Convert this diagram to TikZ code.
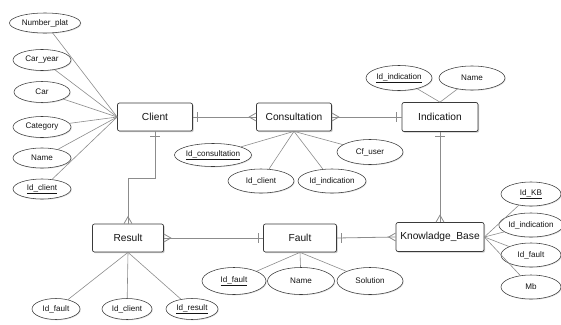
\documentclass[tikz,border=0pt]{standalone}
\usepackage{fontspec}
\setmainfont{Liberation Sans}
\usetikzlibrary{shapes.geometric,shadows,calc}
\definecolor{lnc}{HTML}{8C8C8C}
\definecolor{bdc}{HTML}{3A3A3A}
\definecolor{txc}{HTML}{141414}
\tikzset{
  entity/.style={draw=bdc, line width=0.7pt, rounded corners=2pt, fill=white,
    minimum height=28pt, inner sep=0pt, text=txc,
    font=\fontsize{10.2}{12}\selectfont,
    drop shadow={shadow xshift=1.2pt, shadow yshift=-1.2pt, fill=black!35, opacity=0.6}},
  attr/.style={ellipse, draw=bdc, line width=0.55pt, fill=white, inner sep=0pt,
    minimum height=21pt, text=txc, font=\fontsize{8.1}{9}\selectfont,
    drop shadow={shadow xshift=0.8pt, shadow yshift=-0.8pt, fill=black!25, opacity=0.5}},
  aline/.style={draw=lnc, line width=0.6pt},
  conn/.style={draw=lnc, line width=0.8pt}
}
\begin{document}
\begin{tikzpicture}[x=1pt,y=-1pt]
\useasboundingbox (0,0) rectangle (561,324);
% entities
\node[entity, minimum width=75pt] (client) at (155,117) {Client};
\node[entity, minimum width=75pt] (consult) at (294,117) {Consultation};
\node[entity, minimum width=76pt, minimum height=29pt] (indic) at (440,117) {Indication};
\node[entity, minimum width=88pt, minimum height=29pt] (kb) at (440,237) {Knowladge\_Base};
\node[entity, minimum width=71pt] (result) at (128,238) {Result};
\node[entity, minimum width=73pt] (fault) at (300,238) {Fault};

% Client attributes
\node[attr, minimum width=71pt, minimum height=20pt] (cnum) at (45,23) {Number\_plat};
\node[attr, minimum width=58pt] (cyear) at (42,60) {Car\_year};
\node[attr, minimum width=56pt] (ccar) at (42,92) {Car};
\node[attr, minimum width=58pt] (ccat) at (42,127) {Category};
\node[attr, minimum width=58pt, minimum height=20pt] (cname) at (42,158) {Name};
\node[attr, minimum width=58pt, minimum height=20pt] (cid) at (42,189) {\underline{Id\_client}};
\foreach \a in {cnum,cyear,ccar,ccat,cname,cid} \draw[aline] (\a) -- (client.west);

% Consultation attributes
\node[attr, minimum width=76pt, minimum height=23pt] (kid) at (213,155) {\underline{Id\_consultation}};
\node[attr, minimum width=66pt, minimum height=24pt] (kcl) at (261,181) {Id\_client};
\node[attr, minimum width=68pt, minimum height=24pt] (kin) at (332,181) {Id\_indication};
\node[attr, minimum width=66pt, minimum height=25pt] (kcf) at (370,152) {Cf\_user};
\foreach \a in {kid,kcl,kin,kcf} \draw[aline] (\a) -- (consult.south);

% Indication attributes
\node[attr, minimum width=66pt, minimum height=25pt] (iid) at (399,78) {\underline{Id\_indication}};
\node[attr, minimum width=66pt, minimum height=24pt] (iname) at (472,78) {Name};
\foreach \a in {iid,iname} \draw[aline] (\a) -- (indic.north);

% Knowladge_Base attributes
\node[attr, minimum width=60pt, minimum height=24pt] (bid) at (531,194) {\underline{Id\_KB}};
\node[attr, minimum width=60pt, minimum height=24pt] (bin) at (531,225) {Id\_indication};
\node[attr, minimum width=60pt, minimum height=24pt] (bfa) at (531,255) {Id\_fault};
\node[attr, minimum width=60pt, minimum height=24pt] (bmb) at (531,287) {Mb};
\foreach \a in {bid,bin,bfa,bmb} \draw[aline] (\a) -- (kb.east);

% Result attributes
\node[attr, minimum width=48pt] (rfa) at (56,309) {Id\_fault};
\node[attr, minimum width=50pt] (rcl) at (127,309) {Id\_client};
\node[attr, minimum width=52pt] (rid) at (192,309) {\underline{Id\_result}};
\foreach \a in {rfa,rcl,rid} \draw[aline] (\a) -- (result.south);

% Fault attributes
\node[attr, minimum width=64pt, minimum height=27pt] (fid) at (234,281) {\underline{Id\_fault}};
\node[attr, minimum width=67pt, minimum height=27pt] (fname) at (301,281) {Name};
\node[attr, minimum width=66pt, minimum height=27pt] (fsol) at (370,281) {Solution};
\foreach \a in {fid,fname,fsol} \draw[aline] (\a) -- (fault.south);

% relationships
% Client - Consultation
\draw[conn] (client.east) -- (consult.west);
\draw[conn] ($(client.east)+(5,-5)$) -- ++(0,10);
\draw[conn] ($(consult.west)+(0,-4)$) -- ($(consult.west)+(-7,0)$) -- ($(consult.west)+(0,4)$);
% Consultation - Indication
\draw[conn] (consult.east) -- (indic.west);
\draw[conn] ($(consult.east)+(0,-4)$) -- ($(consult.east)+(7,0)$) -- ($(consult.east)+(0,4)$);
\draw[conn] ($(indic.west)+(-5,-5)$) -- ++(0,10);
% Client - Result
\coordinate (bend) at ($(client.south)+(0,47)$);
\draw[conn] (client.south) -- (bend) -| (result.north);
\draw[conn] ($(client.south)+(-5,5)$) -- ++(10,0);
\draw[conn] ($(result.north)+(-4,0)$) -- ($(result.north)+(0,-7)$) -- ($(result.north)+(4,0)$);
% Indication - Knowladge_Base
\draw[conn] (indic.south) -- (kb.north);
\draw[conn] ($(indic.south)+(-5,5)$) -- ++(10,0);
\draw[conn] ($(kb.north)+(-4,0)$) -- ($(kb.north)+(0,-7)$) -- ($(kb.north)+(4,0)$);
% Fault - Knowladge_Base
\draw[conn] (fault.east) -- (kb.west);
\draw[conn] ($(fault.east)+(5,-5)$) -- ++(0,10);
\draw[conn] ($(kb.west)+(0,-4)$) -- ($(kb.west)+(-7,0)$) -- ($(kb.west)+(0,4)$);
% Result - Fault
\draw[conn] (result.east) -- (fault.west);
\draw[conn] ($(result.east)+(0,-4)$) -- ($(result.east)+(7,0)$) -- ($(result.east)+(0,4)$);
\draw[conn] ($(fault.west)+(-5,-5)$) -- ++(0,10);
\end{tikzpicture}
\end{document}
